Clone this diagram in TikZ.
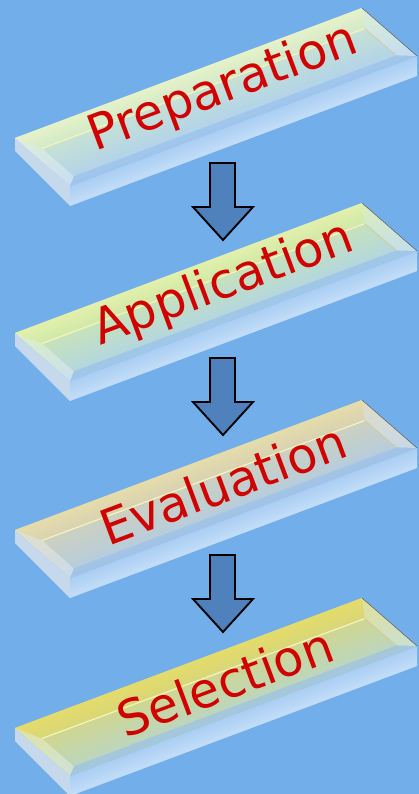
\documentclass[tikz,border=0pt]{standalone}
\usepackage{fontspec}
\setmainfont{DejaVu Sans}
\usetikzlibrary{calc}

\definecolor{bgblue}{RGB}{114,174,234}
\definecolor{arrowblue}{RGB}{79,129,189}
\definecolor{labelred}{RGB}{208,0,0}
\definecolor{frontfacet}{RGB}{150,190,236}
\definecolor{fronttop}{RGB}{170,206,243}
\definecolor{frontbottom}{RGB}{196,222,248}
\definecolor{sidegrey}{RGB}{198,216,236}
\definecolor{shine}{RGB}{246,244,186}
\definecolor{seam}{RGB}{214,200,150}
% top face colours, one set per slab
\definecolor{prepbevel}{RGB}{230,242,200}
\definecolor{prepback}{RGB}{210,233,200}
\definecolor{prepfront}{RGB}{174,208,238}
\definecolor{applbevel}{RGB}{226,240,172}
\definecolor{applback}{RGB}{208,232,168}
\definecolor{applfront}{RGB}{176,212,230}
\definecolor{evalbevel}{RGB}{230,220,170}
\definecolor{evalback}{RGB}{216,210,178}
\definecolor{evalfront}{RGB}{178,204,226}
\definecolor{selbevel}{RGB}{228,220,106}
\definecolor{selback}{RGB}{216,214,120}
\definecolor{selfront}{RGB}{184,214,200}

\tikzstyle{blockarrow} = [draw=black, line width=1.9pt, fill=arrowblue, line join=miter]
\tikzstyle{steplabel} = [text=labelred, font=\fontsize{49}{49}\selectfont, rotate=20.5, inner sep=0pt]
\tikzstyle{sideface} = [fill=sidegrey]
\tikzstyle{highlight} = [draw=shine, line width=1.2pt]
\tikzstyle{seamline} = [draw=seam, line width=0.6pt]
\tikzstyle{rimline} = [draw=gray!70!black, line width=0.5pt]
\tikzset{
  topface/.style={transform canvas={cm={3.47,1.30,-0.55,0.48,(70,#1)}}},
  frontface/.style={transform canvas={cm={3.47,1.30,0,0.2,(70,#1)}}}
}

\begin{document}
\begin{tikzpicture}[x=1pt, y=1pt]

        \useasboundingbox (0,0) rectangle (419,-794);
        \fill[bgblue] (0,0) rectangle (419,-794);
        \clip (0,0) rectangle (419,-794);

        % Preparation slab
        \fill[sideface] (15,-138) -- (70,-186) -- (70,-206) -- (15,-151) -- cycle;
        \begin{scope}[frontface=-206]
          \shade[top color=fronttop, bottom color=frontbottom] (0,0) rectangle (100,100);
        \end{scope}
        \begin{scope}[topface=-186]
          \shade[top color=prepback, bottom color=prepfront] (0,0) rectangle (100,100);
          \shade[top color=prepbevel, bottom color=prepback] (0,100) -- (100,100) -- (96,70) -- (3,70) -- cycle;
          \fill[white, opacity=0.25] (100,100) -- (100,0) -- (96,12) -- (96,70) -- cycle;
          \fill[frontfacet, opacity=0.6] (0,0) -- (100,0) -- (96,12) -- (3,12) -- cycle;
          \fill[white, opacity=0.3] (0,0) -- (3,12) -- (3,70) -- (0,100) -- cycle;
        \end{scope}
        \draw[highlight] (41.9,-148.5) -- (364.6,-28.6);
        \draw[seamline] (364.6,-28.6) -- (396.5,-55.4);
        \draw[rimline] (362,-8) -- (417,-56);
        \node[steplabel] (prep) at (223,-89) {Preparation};

        % Application slab
        \fill[sideface] (15,-333) -- (70,-381) -- (70,-401) -- (15,-346) -- cycle;
        \begin{scope}[frontface=-401]
          \shade[top color=fronttop, bottom color=frontbottom] (0,0) rectangle (100,100);
        \end{scope}
        \begin{scope}[topface=-381]
          \shade[top color=applback, bottom color=applfront] (0,0) rectangle (100,100);
          \shade[top color=applbevel, bottom color=applback] (0,100) -- (100,100) -- (96,70) -- (3,70) -- cycle;
          \fill[white, opacity=0.25] (100,100) -- (100,0) -- (96,12) -- (96,70) -- cycle;
          \fill[frontfacet, opacity=0.6] (0,0) -- (100,0) -- (96,12) -- (3,12) -- cycle;
          \fill[white, opacity=0.3] (0,0) -- (3,12) -- (3,70) -- (0,100) -- cycle;
        \end{scope}
        \draw[highlight] (41.9,-343.5) -- (364.6,-223.6);
        \draw[seamline] (364.6,-223.6) -- (396.5,-250.4);
        \draw[rimline] (362,-203) -- (417,-251);
        \node[steplabel] (appl) at (224,-285) {Application};

        % Evaluation slab
        \fill[sideface] (15,-530) -- (70,-578) -- (70,-598) -- (15,-543) -- cycle;
        \begin{scope}[frontface=-598]
          \shade[top color=fronttop, bottom color=frontbottom] (0,0) rectangle (100,100);
        \end{scope}
        \begin{scope}[topface=-578]
          \shade[top color=evalback, bottom color=evalfront] (0,0) rectangle (100,100);
          \shade[top color=evalbevel, bottom color=evalback] (0,100) -- (100,100) -- (96,70) -- (3,70) -- cycle;
          \fill[white, opacity=0.25] (100,100) -- (100,0) -- (96,12) -- (96,70) -- cycle;
          \fill[frontfacet, opacity=0.6] (0,0) -- (100,0) -- (96,12) -- (3,12) -- cycle;
          \fill[white, opacity=0.3] (0,0) -- (3,12) -- (3,70) -- (0,100) -- cycle;
        \end{scope}
        \draw[highlight] (41.9,-540.5) -- (364.6,-420.6);
        \draw[seamline] (364.6,-420.6) -- (396.5,-447.4);
        \draw[rimline] (362,-400) -- (417,-448);
        \node[steplabel] (eval) at (223,-484) {Evaluation};

        % Selection slab
        \fill[sideface] (15,-728) -- (70,-776) -- (70,-796) -- (15,-741) -- cycle;
        \begin{scope}[frontface=-796]
          \shade[top color=fronttop, bottom color=frontbottom] (0,0) rectangle (100,100);
        \end{scope}
        \begin{scope}[topface=-776]
          \shade[top color=selback, bottom color=selfront] (0,0) rectangle (100,100);
          \shade[top color=selbevel, bottom color=selback] (0,100) -- (100,100) -- (96,70) -- (3,70) -- cycle;
          \fill[white, opacity=0.25] (100,100) -- (100,0) -- (96,12) -- (96,70) -- cycle;
          \fill[frontfacet, opacity=0.6] (0,0) -- (100,0) -- (96,12) -- (3,12) -- cycle;
          \fill[white, opacity=0.3] (0,0) -- (3,12) -- (3,70) -- (0,100) -- cycle;
        \end{scope}
        \draw[highlight] (41.9,-738.5) -- (364.6,-618.6);
        \draw[seamline] (364.6,-618.6) -- (396.5,-645.4);
        \draw[rimline] (362,-598) -- (417,-646);
        \node[steplabel] (sel) at (225,-682) {Selection};

        % Arrows between the slabs
        \draw[blockarrow] (210,-163) -- (235,-163) -- (235,-207) -- (253,-207) -- (223,-240) -- (193,-207) -- (210,-207) -- cycle;
        \draw[blockarrow] (210,-358) -- (235,-358) -- (235,-402) -- (253,-402) -- (223,-435) -- (193,-402) -- (210,-402) -- cycle;
        \draw[blockarrow] (210,-555) -- (235,-555) -- (235,-599) -- (253,-599) -- (223,-632) -- (193,-599) -- (210,-599) -- cycle;

\end{tikzpicture}
\end{document}
